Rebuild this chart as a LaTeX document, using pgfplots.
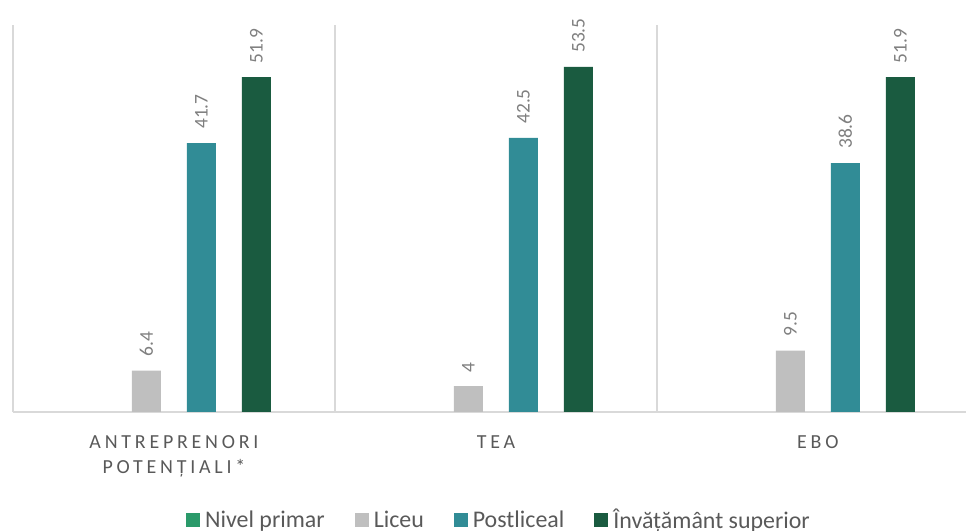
\documentclass[border=0pt]{standalone}
\usepackage{pgfplots}
\pgfplotsset{compat=1.18}
\usepackage{fontspec}
\setmainfont{Carlito}
\newfontfamily\spacedfont[LetterSpace=19]{Carlito}

\definecolor{cPrimar}{HTML}{2A9A6A}
\definecolor{cLiceu}{HTML}{BFBFBF}
\definecolor{cPost}{HTML}{318C96}
\definecolor{cSup}{HTML}{1A5B40}
\definecolor{cGrid}{HTML}{D9D9D9}
\definecolor{cText}{HTML}{595959}
\definecolor{cLabel}{HTML}{7F7F7F}

\begin{document}
\begin{tikzpicture}
\path[use as bounding box] (0,0) rectangle (966bp,531bp);
\begin{axis}[
  at={(13bp,119bp)}, anchor=south west,
  scale only axis, width=953bp, height=387bp,
  xmin=-0.5, xmax=2.46, ymin=0, ymax=60,
  /pgf/number format/assume math mode=true,
  axis y line=none,
  axis x line=bottom,
  x axis line style={cGrid, line width=1.2bp, -},
  xtick={0,1,2},
  xticklabels={{ANTREPRENORI\\POTENȚIALI*},TEA,EBO},
  x tick label style={align=center, font=\spacedfont\fontsize{20}{25}\selectfont, text=cText, yshift=-16bp},
  xtick style={draw=none},
  extra x ticks={-0.5,0.5,1.5},
  extra x tick labels={},
  extra x tick style={grid=major, major grid style={cGrid, line width=1.2bp}, tick style={draw=none}},
  ybar,
  bar width=0.09,
  nodes near coords,
  every node near coord/.append style={rotate=90, anchor=west, inner xsep=14bp, inner ysep=0pt,
    font=\fontsize{19.5}{19.5}\selectfont, text=cLabel},
  legend columns=4,
  legend style={at={(0.51,-0.278)}, anchor=center, draw=none, fill=none,
    font=\fontsize{24}{24}\selectfont, text=cText,
    nodes={inner xsep=2bp, inner ysep=1bp},
    /tikz/every even column/.append style={column sep=28bp}},
  legend image code/.code={\fill[#1, draw=none] (0bp,-7bp) rectangle (14bp,7bp);
    \path[draw=none, fill=none] (0bp,0bp) -- (17bp,0bp);},
]
% Nivel primar: no values reported, only listed in the legend
\addlegendimage{fill=cPrimar, draw=none}
\addlegendentry{Nivel primar}
\addplot[fill=cLiceu, draw=none, bar shift=-0.0854] coordinates {(0,6.4) (1,4) (2,9.5)};
\addlegendentry{Liceu}
\addplot[fill=cPost, draw=none, bar shift=0.0854] coordinates {(0,41.7) (1,42.5) (2,38.6)};
\addlegendentry{Postliceal}
\addplot[fill=cSup, draw=none, bar shift=0.2562] coordinates {(0,51.9) (1,53.5) (2,51.9)};
\addlegendentry{Învățământ superior}
\end{axis}
\end{tikzpicture}
\end{document}
